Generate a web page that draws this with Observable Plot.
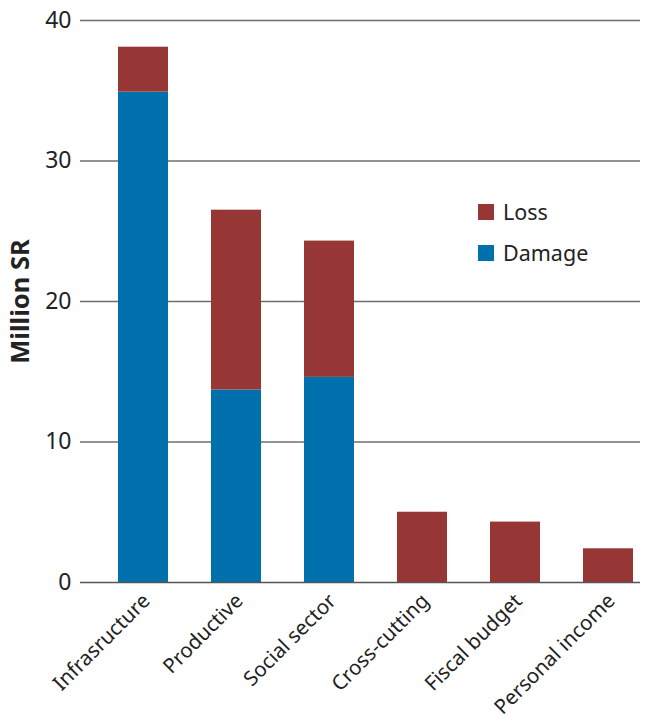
<!DOCTYPE html>
<html>
<head>
<meta charset="utf-8">
<script src="https://cdn.jsdelivr.net/npm/d3@7"></script>
<script src="https://cdn.jsdelivr.net/npm/@observablehq/plot@0.6"></script>
<style>
  html, body { margin: 0; padding: 0; background: #fff; }
  #wrap { position: relative; width: 650px; height: 722px; font-family: "Noto Sans", "Open Sans", sans-serif; }
  #legend { position: absolute; left: 478px; top: 191px; font-size: 21.5px; color: #222; }
  .item { display: flex; align-items: center; height: 41px; }
  .sw { width: 16px; height: 16px; margin-right: 9px; }
</style>
</head>
<body>
<div id="wrap">
  <div id="chart"></div>
  <div id="legend"></div>
</div>
<script>
const categories = ["Infrasructure", "Productive", "Social sector", "Cross-cutting", "Fiscal budget", "Personal income"];
const damage = [34.9, 13.7, 14.6, 0, 0, 0];
const loss = [3.2, 12.8, 9.7, 5.0, 4.3, 2.4];
const seriesNames = ["Loss", "Damage"];
const seriesColors = ["#963736", "#0071ad"];
const yTicks = [0, 10, 20, 30, 40];

const data = [];
categories.forEach((c, i) => {
  data.push({cat: c, type: "Damage", value: damage[i]});
  data.push({cat: c, type: "Loss", value: loss[i]});
});

const chart = Plot.plot({
  width: 650,
  height: 722,
  marginTop: 20,
  marginBottom: 140,
  marginLeft: 80,
  marginRight: 10,
  style: {fontFamily: "Noto Sans, Open Sans, sans-serif", color: "#222", background: "#fff"},
  x: {domain: categories, paddingInner: 0.465, paddingOuter: 0.23, align: 0.85, label: null},
  y: {domain: [0, 40], label: null},
  color: {domain: seriesNames, range: seriesColors},
  marks: [
    Plot.ruleY(yTicks.filter(d => d > 0), {stroke: "#6e6e6e", strokeWidth: 1.3}),
    Plot.barY(data, {x: "cat", y: "value", fill: "type", order: ["Damage", "Loss"]}),
    Plot.ruleY([0], {stroke: "#555", strokeWidth: 1.5}),
    Plot.axisY({ticks: yTicks, tickSize: 0, tickPadding: 9, fontSize: 23, label: "Million SR", labelAnchor: "center", labelArrow: "none", labelOffset: 70}),
    Plot.axisX({tickSize: 0, tickPadding: 15, dx: 3, tickRotate: -45, fontSize: 20.5, label: null})
  ]
});
document.getElementById("chart").appendChild(chart);

// style the y-axis label
chart.querySelectorAll("g[aria-label='y-axis label'] text").forEach(t => {
  t.style.fontWeight = "bold";
  t.style.fontSize = "25.5px";
});

const legend = document.getElementById("legend");
seriesNames.forEach((n, i) => {
  const item = document.createElement("div");
  item.className = "item";
  item.innerHTML = `<div class="sw" style="background:${seriesColors[i]}"></div><span>${n}</span>`;
  legend.appendChild(item);
});
</script>
</body>
</html>
